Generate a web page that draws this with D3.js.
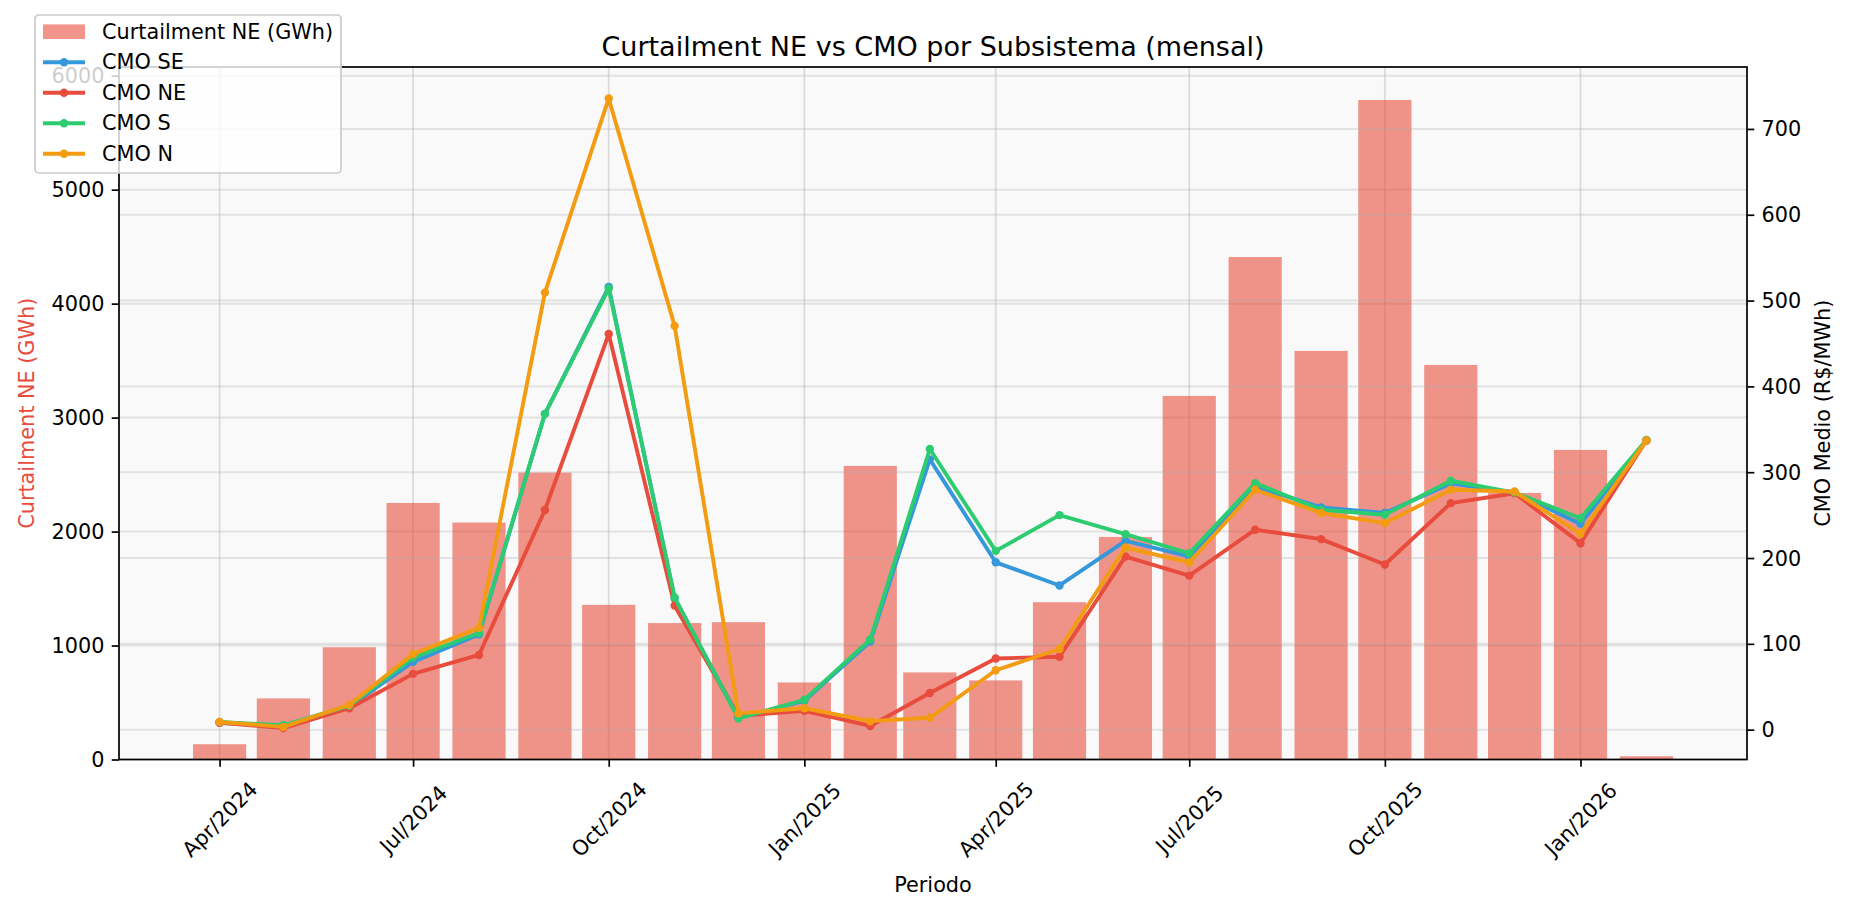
<!DOCTYPE html>
<html>
<head>
<meta charset="utf-8">
<script src="https://cdn.jsdelivr.net/npm/d3@7"></script>
<style>
  body { margin: 0; background: #ffffff; }
  svg { display: block; font-family: "DejaVu Sans", sans-serif; }
</style>
</head>
<body>
<svg id="chart"></svg>
<script>
/*
 *  Data
 */
var months = ["2024-04", "2024-05", "2024-06", "2024-07", "2024-08", "2024-09",
              "2024-10", "2024-11", "2024-12", "2025-01", "2025-02", "2025-03",
              "2025-04", "2025-05", "2025-06", "2025-07", "2025-08", "2025-09",
              "2025-10", "2025-11", "2025-12", "2026-01", "2026-02"];

// monthly curtailment in the NE subsystem (GWh)
var curtailmentNE = [134, 536, 985, 2251, 2079, 2518, 1357, 1197, 1205, 676, 2576, 764,
                     694, 1380, 1953, 3190, 4409, 3585, 5787, 3462, 2339, 2716, 29];

// average CMO per subsystem (R$/MWh)
var cmoSE = [8, 4.5, 27, 79, 111, 368, 516, 153, 14, 33.5, 102.7, 315,
             195, 168, 220, 201.8, 283.5, 259, 252.5, 287, 276.3, 239.8, 337];
var cmoNE = [8, 1.9, 25, 65, 87, 256, 461, 144.5, 16, 22, 4.3, 42.7,
             83, 85, 201.7, 179.5, 233, 222, 192.5, 264, 275.5, 217.3, 337];
var cmoS  = [9, 5.1, 28, 84, 112.6, 368, 514, 154, 13, 34.8, 105, 327,
             208.3, 250, 227.8, 205.5, 287.3, 256.2, 250.5, 290, 276.3, 246.4, 337.5];
var cmoN  = [9, 3.2, 29, 88, 118.6, 509.3, 735.5, 470.5, 19, 24.9, 9.9, 13.8,
             69.2, 94, 212.2, 194.8, 279.5, 252.5, 240.7, 279.5, 277.5, 228.2, 337];

var seriesNames = ["CMO SE", "CMO NE", "CMO S", "CMO N"];
var barName = "Curtailment NE (GWh)";

// tick labels
var xTickMonths = ["2024-04", "2024-07", "2024-10", "2025-01",
                   "2025-04", "2025-07", "2025-10", "2026-01"];
var leftTicks = [0, 1000, 2000, 3000, 4000, 5000, 6000];
var rightTicks = [0, 100, 200, 300, 400, 500, 600, 700];


/*
 *  Layout
 */
var width = 1851,
    height = 912;

// plot box (axes area)
var plot = { left: 119, right: 1747, top: 67, bottom: 759.5 };

var DAY = 864e5;
var fontSize = 20.8;      // 10pt at 150 dpi
var barColor = "#e74c3c";
var colors = ["#3498db", "#e74c3c", "#2ecc71", "#f39c12"];

var parseMonth = d3.utcParse("%Y-%m");
var fmtMonth = d3.utcFormat("%b/%Y");
var dates = months.map(parseMonth);
var series = [cmoSE, cmoNE, cmoS, cmoN];

var svg = d3.select("#chart")
    .attr("width", width)
    .attr("height", height);


/*
 *  Scales (matplotlib-like 5% margins)
 */
var barDays = 25;
var spanDays = (dates[dates.length - 1] - dates[0]) / DAY + barDays;
var padDays = barDays / 2 + 0.05 * spanDays;

var x = d3.scaleUtc()
    .domain([new Date(+dates[0] - padDays * DAY), new Date(+dates[dates.length - 1] + padDays * DAY)])
    .range([plot.left, plot.right]);

var yLeft = d3.scaleLinear()
    .domain([0, d3.max(curtailmentNE) * 1.05])
    .range([plot.bottom, plot.top]);

var allCmo = d3.merge(series);
var cmoMin = d3.min(allCmo), cmoMax = d3.max(allCmo);
var cmoPad = 0.05 * (cmoMax - cmoMin);
var yRight = d3.scaleLinear()
    .domain([cmoMin - cmoPad, cmoMax + cmoPad])
    .range([plot.bottom, plot.top]);


/*
 *  Background + grid
 */
svg.append("rect")
    .attr("x", plot.left)
    .attr("y", plot.top)
    .attr("width", plot.right - plot.left)
    .attr("height", plot.bottom - plot.top)
    .style("fill", "#f9f9f9");

var grid = svg.append("g").attr("class", "grid");

grid.selectAll(".vgrid")
    .data(xTickMonths.map(parseMonth))
    .enter().append("line")
      .attr("x1", function(d) { return x(d); })
      .attr("x2", function(d) { return x(d); })
      .attr("y1", plot.top)
      .attr("y2", plot.bottom)
      .style("stroke", "#b0b0b0")
      .style("stroke-width", 1.8)
      .style("opacity", 0.4);

grid.selectAll(".lgrid")
    .data(leftTicks)
    .enter().append("line")
      .attr("x1", plot.left)
      .attr("x2", plot.right)
      .attr("y1", function(d) { return yLeft(d); })
      .attr("y2", function(d) { return yLeft(d); })
      .style("stroke", "#b0b0b0")
      .style("stroke-width", 2)
      .style("opacity", 0.3);


/*
 *  Bars (left axis)
 */
svg.append("g")
  .selectAll("rect")
  .data(curtailmentNE)
  .enter().append("rect")
    .attr("x", function(d, i) { return x(new Date(+dates[i] - barDays / 2 * DAY)); })
    .attr("width", function(d, i) {
      return x(new Date(+dates[i] + barDays / 2 * DAY)) - x(new Date(+dates[i] - barDays / 2 * DAY));
    })
    .attr("y", function(d) { return yLeft(d); })
    .attr("height", function(d) { return yLeft(0) - yLeft(d); })
    .style("fill", barColor)
    .style("opacity", 0.6);

// right-axis grid sits on top of the bars (twin axes)
grid = svg.append("g").attr("class", "grid2");
grid.selectAll("line")
    .data(rightTicks)
    .enter().append("line")
      .attr("x1", plot.left)
      .attr("x2", plot.right)
      .attr("y1", function(d) { return yRight(d); })
      .attr("y2", function(d) { return yRight(d); })
      .style("stroke", "#b0b0b0")
      .style("stroke-width", 2)
      .style("opacity", 0.3);


/*
 *  CMO lines (right axis)
 */
var line = d3.line()
    .x(function(d, i) { return x(dates[i]); })
    .y(function(d) { return yRight(d); });

series.forEach(function(vals, k) {
  var g = svg.append("g").attr("class", "series");
  g.append("path")
    .attr("d", line(vals))
    .style("fill", "none")
    .style("stroke", colors[k])
    .style("stroke-width", 3.9)
    .style("stroke-linejoin", "round")
    .style("stroke-linecap", "square");
  g.selectAll("circle")
    .data(vals)
    .enter().append("circle")
      .attr("cx", function(d, i) { return x(dates[i]); })
      .attr("cy", function(d) { return yRight(d); })
      .attr("r", 4.2)
      .style("fill", colors[k]);
});


/*
 *  Axes
 */
var tickLen = 7.3, tickPad = 7.3;

// x axis
var xAxis = svg.append("g")
    .attr("transform", "translate(0," + plot.bottom + ")")
    .call(d3.axisBottom(x)
      .tickValues(xTickMonths.map(parseMonth))
      .tickFormat(fmtMonth)
      .tickSize(tickLen)
      .tickSizeOuter(0));
xAxis.selectAll("text")
    .attr("y", null)
    .attr("dy", null)
    .attr("text-anchor", "middle")
    .attr("dominant-baseline", "central")
    .attr("transform", "translate(0,60) rotate(-45)");

// left axis
var yAxisL = svg.append("g")
    .attr("transform", "translate(" + plot.left + ",0)")
    .call(d3.axisLeft(yLeft)
      .tickValues(leftTicks)
      .tickFormat(d3.format("d"))
      .tickSize(tickLen)
      .tickPadding(tickPad)
      .tickSizeOuter(0));

// right axis
var yAxisR = svg.append("g")
    .attr("transform", "translate(" + plot.right + ",0)")
    .call(d3.axisRight(yRight)
      .tickValues(rightTicks)
      .tickFormat(d3.format("d"))
      .tickSize(tickLen)
      .tickPadding(tickPad)
      .tickSizeOuter(0));

[xAxis, yAxisL, yAxisR].forEach(function(a) {
  a.select(".domain").remove();
  a.selectAll(".tick line").style("stroke", "#000").style("stroke-width", 1.7);
  a.selectAll("text")
    .style("font-family", "DejaVu Sans")
    .style("font-size", fontSize + "px")
    .style("fill", "#000");
});
yAxisL.selectAll("text").attr("dy", null).attr("dominant-baseline", "central");
yAxisR.selectAll("text").attr("dy", null).attr("dominant-baseline", "central");

// spines
svg.append("rect")
    .attr("x", plot.left)
    .attr("y", plot.top)
    .attr("width", plot.right - plot.left)
    .attr("height", plot.bottom - plot.top)
    .style("fill", "none")
    .style("stroke", "#000")
    .style("stroke-width", 1.7);


/*
 *  Titles and labels
 */
svg.append("text")
    .attr("x", (plot.left + plot.right) / 2)
    .attr("y", 46)
    .attr("text-anchor", "middle")
    .attr("dominant-baseline", "central")
    .style("font-size", "27px")
    .text("Curtailment NE vs CMO por Subsistema (mensal)");

svg.append("text")
    .attr("transform", "translate(" + (plot.left + plot.right) / 2 + ",885)")
    .attr("text-anchor", "middle")
    .attr("dominant-baseline", "central")
    .style("font-size", fontSize + "px")
    .text("Periodo");

svg.append("text")
    .attr("transform", "translate(27," + (plot.top + plot.bottom) / 2 + ") rotate(-90)")
    .attr("text-anchor", "middle")
    .attr("dominant-baseline", "central")
    .style("font-size", fontSize + "px")
    .style("fill", barColor)
    .text(barName);

svg.append("text")
    .attr("transform", "translate(1823," + (plot.top + plot.bottom) / 2 + ") rotate(-90)")
    .attr("text-anchor", "middle")
    .attr("dominant-baseline", "central")
    .style("font-size", fontSize + "px")
    .text("CMO Medio (R$/MWh)");


/*
 *  Legend (upper left, overlapping the axes)
 */
var legend = svg.append("g").attr("transform", "translate(35,15)");
legend.append("rect")
    .attr("width", 306)
    .attr("height", 158)
    .attr("rx", 4)
    .style("fill", "#fff")
    .style("fill-opacity", 0.8)
    .style("stroke", "#cccccc")
    .style("stroke-width", 1.7);

var rowY = function(i) { return 16.7 + i * 30.5; };

legend.append("rect")
    .attr("x", 8)
    .attr("y", rowY(0) - 7.3)
    .attr("width", 42)
    .attr("height", 14.6)
    .style("fill", barColor)
    .style("opacity", 0.6);

var items = legend.selectAll(".item")
    .data(seriesNames)
    .enter().append("g")
      .attr("transform", function(d, i) { return "translate(0," + rowY(i + 1) + ")"; });
items.append("line")
    .attr("x1", 8)
    .attr("x2", 50)
    .style("stroke", function(d, i) { return colors[i]; })
    .style("stroke-width", 3.9);
items.append("circle")
    .attr("cx", 29)
    .attr("r", 4.2)
    .style("fill", function(d, i) { return colors[i]; });

legend.selectAll(".label")
    .data([barName].concat(seriesNames))
    .enter().append("text")
      .attr("x", 67)
      .attr("y", function(d, i) { return rowY(i); })
      .attr("dominant-baseline", "central")
      .style("font-size", fontSize + "px")
      .text(function(d) { return d; });
</script>
</body>
</html>
